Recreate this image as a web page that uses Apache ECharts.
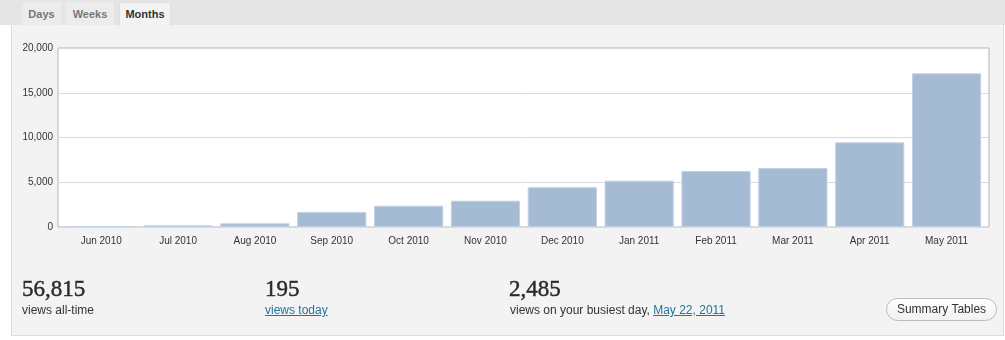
<!DOCTYPE html>
<html>
<head>
<meta charset="utf-8">
<script src="https://cdn.jsdelivr.net/npm/echarts@6/dist/echarts.min.js"></script>
<style>
  html, body { margin: 0; padding: 0; background: #fff; }
  #page { position: relative; width: 1005px; height: 340px; overflow: hidden; font-family: "Liberation Sans", Arial, Helvetica, sans-serif; color: #333; }
  #topbar { position: absolute; left: 0; top: 0; width: 1005px; height: 25px; background: #e5e5e5; }
  .tab { position: absolute; top: 2px; height: 23px; background: #ececec; border-radius: 3px 3px 0 0; font-weight: bold; font-size: 11px; line-height: 24px; color: #777; text-align: center; box-sizing: border-box; }
  .tab.active { background: #f3f3f3; color: #333; border: 1px solid #e0e0e0; border-bottom: none; height: 24px; line-height: 23px; }
  #panel { position: absolute; left: 11px; top: 25px; width: 993px; height: 311px; background: #f3f3f3; border: 1px solid #dcdcdc; border-top: none; box-sizing: border-box; }
  #chart { position: absolute; left: 0; top: 0; width: 1005px; height: 340px; }
  .big { position: absolute; top: 276px; font-family: "Liberation Serif", "Times New Roman", serif; font-size: 23px; color: #2b2b2b; line-height: 26px; -webkit-text-stroke: 0.45px #2b2b2b; }
  .small { position: absolute; top: 302px; font-size: 12px; line-height: 16px; color: #333; white-space: nowrap; }
  a { color: #21759b; text-decoration: underline; }
  #btn { position: absolute; left: 886px; top: 298px; width: 111px; height: 23px; box-sizing: border-box; border: 1px solid #bbb; border-radius: 12px; background: linear-gradient(#fefefe, #f1f1f1); font-size: 12px; line-height: 21px; text-align: center; color: #333; }
</style>
</head>
<body>
<div id="page">
  <div id="topbar"></div>
  <div id="panel"></div>
  <div class="tab" style="left:22px;width:39px;">Days</div>
  <div class="tab" style="left:66px;width:48px;">Weeks</div>
  <div class="tab active" style="left:119px;width:52px;">Months</div>
  <div id="chart"></div>
  <div class="big" style="left:22px;">56,815</div>
  <div class="small" style="left:22px;">views all-time</div>
  <div class="big" style="left:265px;">195</div>
  <div class="small" style="left:265px;"><a>views today</a></div>
  <div class="big" style="left:509px;">2,485</div>
  <div class="small" style="left:510px;">views on your busiest day, <a>May 22, 2011</a></div>
  <div id="btn">Summary Tables</div>
</div>
<script>
const categories = ['Jun 2010', 'Jul 2010', 'Aug 2010', 'Sep 2010', 'Oct 2010', 'Nov 2010',
                    'Dec 2010', 'Jan 2011', 'Feb 2011', 'Mar 2011', 'Apr 2011', 'May 2011'];
const views = [110, 190, 410, 1680, 2380, 2940, 4440, 5180, 6260, 6600, 9460, 17170];
const yMin = 0;
const yMax = 20000;
const yInterval = 5000;

const chart = echarts.init(document.getElementById('chart'), null, { renderer: 'canvas' });
const labelFont = { fontFamily: '"Liberation Sans", Arial, Helvetica, sans-serif', fontSize: 10, color: '#333' };

chart.setOption({
  animation: false,
  backgroundColor: 'transparent',
  grid: [
    { left: 58, top: 48, width: 931, height: 179, show: true, backgroundColor: '#fff', borderColor: '#b4b4b4', borderWidth: 1, containLabel: false },
    { left: 62.8, top: 48, width: 922.2, height: 179, containLabel: false }
  ],
  xAxis: [
    { gridIndex: 0, type: 'value', show: false, min: 0, max: 1 },
    { gridIndex: 1, type: 'category', data: categories,
      axisLine: { show: false }, axisTick: { show: false },
      axisLabel: Object.assign({ margin: 9 }, labelFont) }
  ],
  yAxis: [
    { gridIndex: 0, type: 'value', min: yMin, max: yMax, interval: yInterval,
      axisLine: { show: false }, axisTick: { show: false },
      axisLabel: Object.assign({ margin: 5, formatter: v => v.toLocaleString('en-US') }, labelFont),
      splitLine: { lineStyle: { color: '#dadada', width: 1 } } },
    { gridIndex: 1, type: 'value', min: yMin, max: yMax, interval: yInterval, show: false,
      splitLine: { show: false } }
  ],
  series: [{
    type: 'bar',
    xAxisIndex: 1,
    yAxisIndex: 1,
    data: views,
    barCategoryGap: '10%',
    itemStyle: { color: '#a5bad3', borderColor: '#c2d1e3', borderWidth: 1 },
    emphasis: { disabled: true }
  }]
});
</script>
</body>
</html>
